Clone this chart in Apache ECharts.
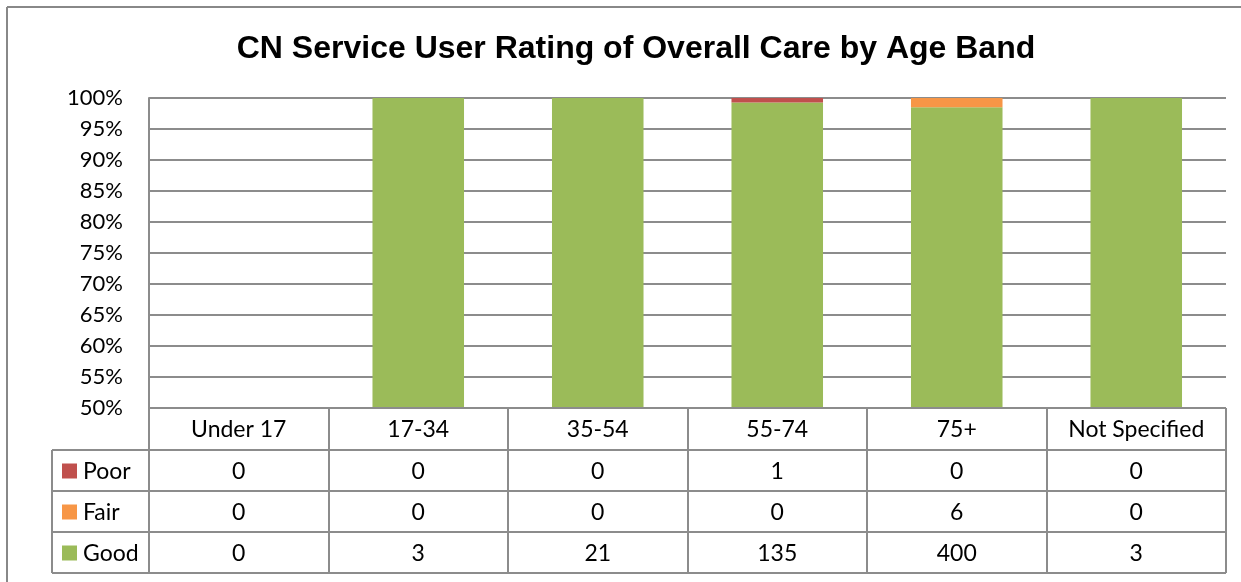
<!DOCTYPE html>
<html>
<head>
<meta charset="utf-8">
<script src="https://cdn.jsdelivr.net/npm/echarts@6/dist/echarts.min.js"></script>
<style>
  html, body { margin: 0; padding: 0; background: #fff; }
  #main { width: 1241px; height: 582px; }
</style>
</head>
<body>
<div id="main"></div>
<script>
// data
var categories = ['Under 17', '17-34', '35-54', '55-74', '75+', 'Not Specified']
var poor = [0, 0, 0, 1, 0, 0]
var fair = [0, 0, 0, 0, 6, 0]
var good = [0, 3, 21, 135, 400, 3]
var yTicks = [50, 55, 60, 65, 70, 75, 80, 85, 90, 95, 100]

var colors = { Poor: '#c0504d', Fair: '#f79646', Good: '#9bbb59' }
var lineColor = '#8c8c8c'
var font = 'Lato, "Open Sans", sans-serif'

// layout
var W = 1241, H = 582
var gridLeft = 149, gridRight = 1226, gridTop = 98, gridBottom = 408
var rowH = [42, 41, 41, 41]
var legendLeft = 52

function pct (arr) {
  return arr.map(function (v, i) {
    var total = poor[i] + fair[i] + good[i]
    return total ? v / total * 100 : 0
  })
}

function buildTable () {
  var g = []
  var colW = (gridRight - gridLeft) / categories.length
  var rows = [
    { name: 'Poor', data: poor },
    { name: 'Fair', data: fair },
    { name: 'Good', data: good }
  ]
  var ys = [gridBottom]
  for (var r = 0; r < rowH.length; r++) ys.push(ys[r] + rowH[r])
  var ln = function (x1, y1, x2, y2) {
    g.push({ type: 'line', shape: { x1: x1, y1: y1, x2: x2, y2: y2 }, style: { stroke: lineColor, lineWidth: 2 }, z: 10 })
  }
  // horizontal lines
  ln(gridLeft, ys[0], gridRight, ys[0])
  for (var k = 1; k < ys.length; k++) ln(legendLeft, ys[k], gridRight, ys[k])
  // vertical lines
  ln(legendLeft, ys[1], legendLeft, ys[ys.length - 1])
  for (var c = 0; c <= categories.length; c++) {
    var x = Math.round(gridLeft + c * colW)
    ln(x, ys[0], x, ys[ys.length - 1])
  }
  // header labels
  categories.forEach(function (cat, i) {
    g.push({ type: 'text', x: gridLeft + (i + 0.5) * colW, y: (ys[0] + ys[1]) / 2 + 1,
      style: { text: cat, font: '23px ' + font, fill: '#000', align: 'center', verticalAlign: 'middle' } })
  })
  rows.forEach(function (row, r) {
    var cy = (ys[r + 1] + ys[r + 2]) / 2
    g.push({ type: 'rect', shape: { x: 62, y: cy - 7, width: 15, height: 15 }, style: { fill: colors[row.name] } })
    g.push({ type: 'text', x: 83, y: cy + 1, style: { text: row.name, font: '23px ' + font, fill: '#000', verticalAlign: 'middle' } })
    row.data.forEach(function (v, i) {
      g.push({ type: 'text', x: gridLeft + (i + 0.5) * colW, y: cy + 1,
        style: { text: String(v), font: '23px ' + font, fill: '#000', align: 'center', verticalAlign: 'middle' } })
    })
  })
  // outer frame
  g.push({ type: 'line', shape: { x1: 7, y1: 7, x2: W, y2: 7 }, style: { stroke: '#888', lineWidth: 2 } })
  g.push({ type: 'line', shape: { x1: 7, y1: 7, x2: 7, y2: H }, style: { stroke: '#888', lineWidth: 2 } })
  return g
}

var chart = echarts.init(document.getElementById('main'))
var option = {
  animation: false,
  title: {
    text: 'CN Service User Rating of Overall Care by Age Band',
    left: 631,
    top: 28,
    textAlign: 'center',
    textStyle: { fontFamily: '"Liberation Sans", Arial, sans-serif', fontWeight: 'bold', fontSize: 32, color: '#000' }
  },
  grid: { left: gridLeft, right: W - gridRight, top: gridTop, bottom: H - gridBottom, containLabel: false },
  xAxis: {
    type: 'category',
    data: categories,
    axisLine: { show: false },
    axisTick: { show: false },
    axisLabel: { show: false }
  },
  yAxis: {
    type: 'value',
    min: yTicks[0],
    max: yTicks[yTicks.length - 1],
    interval: yTicks[1] - yTicks[0],
    axisLine: { show: true, lineStyle: { color: lineColor, width: 2 } },
    axisTick: { show: false },
    axisLabel: { formatter: '{value}%', fontFamily: font, fontSize: 22, color: '#000', margin: 26 },
    splitLine: { lineStyle: { color: lineColor, width: 2 } }
  },
  series: [
    { name: 'Good', type: 'bar', stack: 'all', data: pct(good), itemStyle: { color: colors.Good }, barCategoryGap: '49%' },
    { name: 'Fair', type: 'bar', stack: 'all', data: pct(fair), itemStyle: { color: colors.Fair } },
    { name: 'Poor', type: 'bar', stack: 'all', data: pct(poor), itemStyle: { color: colors.Poor } }
  ],
  graphic: buildTable()
}
chart.setOption(option)
</script>
</body>
</html>
